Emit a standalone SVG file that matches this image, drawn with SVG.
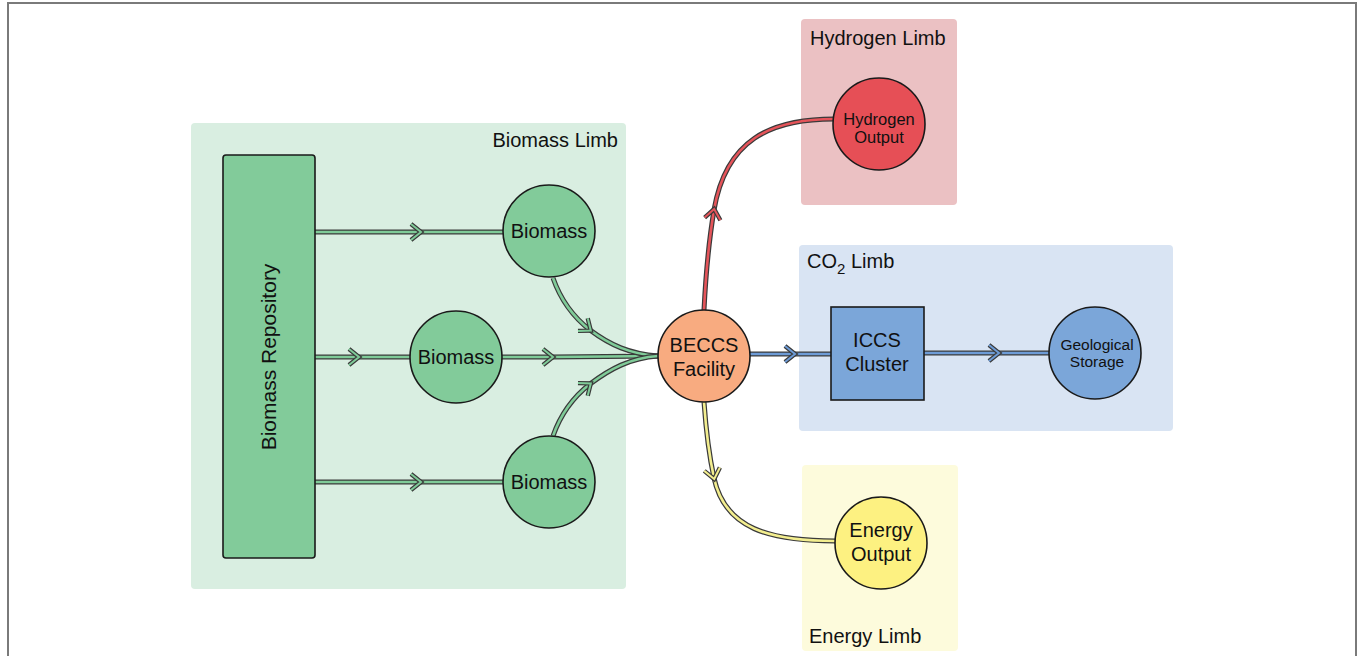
<svg xmlns="http://www.w3.org/2000/svg" width="1360" height="656" viewBox="0 0 1360 656">
<style>
text{font-family:"Liberation Sans",Arial,sans-serif;fill:#111}
.node{stroke:#1a1a1a;stroke-width:1.6}
.out{fill:none;stroke:#3a3a3a;stroke-width:5;stroke-linecap:butt}
.g{fill:none;stroke:#7fcb98;stroke-width:2.6}
.r{fill:none;stroke:#e5545a;stroke-width:2.6}
.b{fill:none;stroke:#6d9bd6;stroke-width:2.6}
.y{fill:none;stroke:#f3ee8f;stroke-width:2.6}
.lbl{font-size:20px}
</style>
<defs>
<marker id="mg" viewBox="-12 -12 24 24" markerWidth="24" markerHeight="24" markerUnits="userSpaceOnUse" orient="auto" refX="0" refY="0">
<path d="M-9,-8 L1,0 L-9,8" fill="none" stroke="#3a3a3a" stroke-width="4.4"/>
<path d="M-9,-8 L1,0 L-9,8" fill="none" stroke="#7fcb98" stroke-width="2"/>
</marker>
<marker id="mr" viewBox="-12 -12 24 24" markerWidth="24" markerHeight="24" markerUnits="userSpaceOnUse" orient="auto" refX="0" refY="0">
<path d="M-9,-8 L1,0 L-9,8" fill="none" stroke="#3a3a3a" stroke-width="4.4"/>
<path d="M-9,-8 L1,0 L-9,8" fill="none" stroke="#e5545a" stroke-width="2"/>
</marker>
<marker id="mb" viewBox="-12 -12 24 24" markerWidth="24" markerHeight="24" markerUnits="userSpaceOnUse" orient="auto" refX="0" refY="0">
<path d="M-9,-8 L1,0 L-9,8" fill="none" stroke="#3a3a3a" stroke-width="4.4"/>
<path d="M-9,-8 L1,0 L-9,8" fill="none" stroke="#6d9bd6" stroke-width="2"/>
</marker>
<marker id="my" viewBox="-12 -12 24 24" markerWidth="24" markerHeight="24" markerUnits="userSpaceOnUse" orient="auto" refX="0" refY="0">
<path d="M-9,-8 L1,0 L-9,8" fill="none" stroke="#3a3a3a" stroke-width="4.4"/>
<path d="M-9,-8 L1,0 L-9,8" fill="none" stroke="#f3ee8f" stroke-width="2"/>
</marker>
</defs>
<rect x="8" y="3" width="1348" height="720" fill="#fff" stroke="#7a7a7a" stroke-width="2"/>

<g id="clusters">
<g id="biomass-limb">
<rect x="191" y="123" width="435" height="466" rx="4" fill="#d9eee1"/>
<text class="lbl" x="618" y="147" text-anchor="end">Biomass Limb</text>
</g>
<g id="hydrogen-limb">
<rect x="801" y="19" width="156" height="186" rx="4" fill="#ebc1c3"/>
<text class="lbl" x="810" y="45">Hydrogen Limb</text>
</g>
<g id="co2-limb">
<rect x="799" y="245" width="374" height="186" rx="4" fill="#d9e4f3"/>
<text class="lbl" x="807" y="268">CO<tspan font-size="15" dy="6">2</tspan><tspan dy="-6"> Limb</tspan></text>
</g>
<g id="energy-limb">
<rect x="802" y="465" width="156" height="186" rx="4" fill="#fdfbdc"/>
<text class="lbl" x="809" y="643">Energy Limb</text>
</g>
</g>

<g id="connectors">
<path class="out" d="M315,232 L420,232 L503,232"/>
<path class="g" d="M315,232 L420,232 L503,232" marker-mid="url(#mg)"/>
<path class="out" d="M315,357 L358,357 L410,357"/>
<path class="g" d="M315,357 L358,357 L410,357" marker-mid="url(#mg)"/>
<path class="out" d="M315,482 L420,482 L503,482"/>
<path class="g" d="M315,482 L420,482 L503,482" marker-mid="url(#mg)"/>
<path class="out" d="M502,357 L552,357 L658,356"/>
<path class="g" d="M502,357 L552,357 L658,356" marker-mid="url(#mg)"/>
<path class="out" d="M553,278 C560,298 572,316 590,330 C610,345 630,354 658,356"/>
<path class="g" d="M553,278 C560,298 572,316 590,330 C610,345 630,354 658,356" marker-mid="url(#mg)"/>
<path class="out" d="M553,436 C560,416 572,398 590,384 C610,369 630,358 658,356"/>
<path class="g" d="M553,436 C560,416 572,398 590,384 C610,369 630,358 658,356" marker-mid="url(#mg)"/>
<path class="out" d="M704,310 C706,270 709,240 714,210 C726,140 770,119 834,119"/>
<path class="r" d="M704,310 C706,270 709,240 714,210 C726,140 770,119 834,119" marker-mid="url(#mr)"/>
<path class="out" d="M750,354 L794,354 L831,354"/>
<path class="b" d="M750,354 L794,354 L831,354" marker-mid="url(#mb)"/>
<path class="out" d="M924,353 L998,353 L1049,353"/>
<path class="b" d="M924,353 L998,353 L1049,353" marker-mid="url(#mb)"/>
<path class="out" d="M704,402 C706,430 709,455 714,478 C725,529 770,541 835,541"/>
<path class="y" d="M704,402 C706,430 709,455 714,478 C725,529 770,541 835,541" marker-mid="url(#my)"/>
</g>

<g id="biomass-repository">
<rect class="node" x="223" y="155" width="92" height="403" rx="3" fill="#82cb9a"/>
<text class="lbl" font-size="21" transform="translate(276,357) rotate(-90)" text-anchor="middle" style="font-size:21px">Biomass Repository</text>
</g>
<g id="biomass-1">
<circle class="node" cx="549" cy="231" r="46" fill="#82cb9a"/>
<text class="lbl" x="549" y="238" text-anchor="middle">Biomass</text>
</g>
<g id="biomass-2">
<circle class="node" cx="456" cy="357" r="46" fill="#82cb9a"/>
<text class="lbl" x="456" y="364" text-anchor="middle">Biomass</text>
</g>
<g id="biomass-3">
<circle class="node" cx="549" cy="482" r="46" fill="#82cb9a"/>
<text class="lbl" x="549" y="489" text-anchor="middle">Biomass</text>
</g>
<g id="beccs">
<circle class="node" cx="704" cy="356" r="46" fill="#f8ab80"/>
<text class="lbl" x="704" y="352" text-anchor="middle">BECCS</text>
<text class="lbl" x="704" y="376" text-anchor="middle">Facility</text>
</g>
<g id="hydrogen-output">
<circle class="node" cx="879" cy="124" r="46" fill="#e64f56"/>
<text x="879" y="125" text-anchor="middle" style="font-size:16.5px">Hydrogen</text>
<text x="879" y="143" text-anchor="middle" style="font-size:16.5px">Output</text>
</g>
<g id="iccs-cluster">
<rect class="node" x="831" y="307" width="93" height="93" fill="#7ba6d9"/>
<text class="lbl" x="877" y="347" text-anchor="middle">ICCS</text>
<text class="lbl" x="877" y="371" text-anchor="middle">Cluster</text>
</g>
<g id="geological-storage">
<circle class="node" cx="1095" cy="353" r="46" fill="#7ba6d9"/>
<text x="1097" y="350" text-anchor="middle" style="font-size:15.5px">Geological</text>
<text x="1097" y="367" text-anchor="middle" style="font-size:15.5px">Storage</text>
</g>
<g id="energy-output">
<circle class="node" cx="881" cy="543" r="46" fill="#fdf181"/>
<text class="lbl" x="881" y="537" text-anchor="middle">Energy</text>
<text class="lbl" x="881" y="561" text-anchor="middle">Output</text>
</g>
</svg>
